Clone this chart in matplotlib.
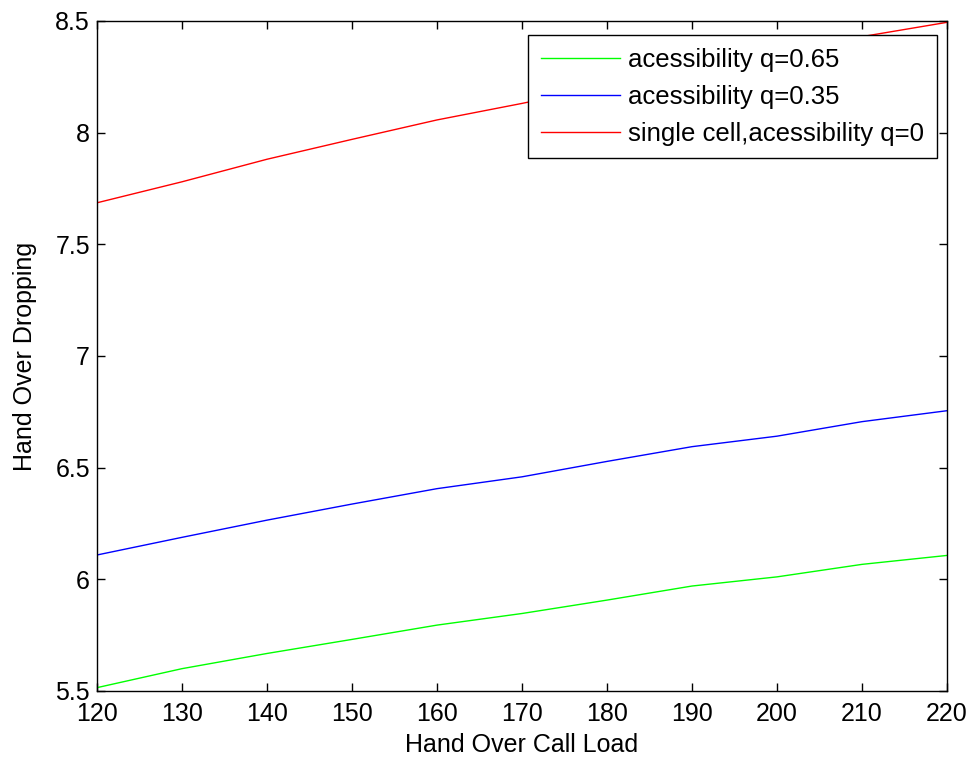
import matplotlib.pyplot as plt
import numpy as np

plt.rcParams['font.family'] = ['Liberation Sans', 'DejaVu Sans']

load = [120, 130, 140, 150, 160, 170, 180, 190, 200, 210, 220]
q065 = [5.515, 5.60, 5.668, 5.731, 5.795, 5.847, 5.907, 5.970, 6.011, 6.067, 6.107]
q035 = [6.109, 6.188, 6.265, 6.337, 6.406, 6.459, 6.528, 6.594, 6.641, 6.706, 6.755]
q0 = [7.686, 7.78, 7.881, 7.97, 8.057, 8.131, 8.21, 8.285, 8.36, 8.43, 8.494]

fig = plt.figure(figsize=(9.72, 7.58), dpi=100)
ax = fig.add_axes([0.0998, 0.0884, 0.8745, 0.8839])

ax.plot(load, q065, color='#00ff00', lw=1, label='acessibility q=0.65')
ax.plot(load, q035, color='#0000ff', lw=1, label='acessibility q=0.35')
ax.plot(load, q0, color='#ff0000', lw=1, label='single cell,acessibility q=0')

ax.set_xlim(120, 220)
ax.set_ylim(5.5, 8.5)
ax.set_xticks(np.arange(120, 221, 10))
ax.set_yticks(np.arange(5.5, 8.51, 0.5))
ax.set_yticklabels(['5.5', '6', '6.5', '7', '7.5', '8', '8.5'])
ax.tick_params(direction='in', top=True, right=True, labelsize=18, length=6, width=1)
ax.tick_params(axis='x', pad=8)
ax.tick_params(axis='y', pad=5)
for s in ax.spines.values():
    s.set_linewidth(1)

ax.set_xlabel('Hand Over Call Load', fontsize=18, labelpad=5)
ax.set_ylabel('Hand Over Dropping', fontsize=18, labelpad=13)

leg = ax.legend(loc='upper right', bbox_to_anchor=(0.988, 0.979), borderaxespad=0,
                fontsize=18.5, fancybox=False, edgecolor='black', framealpha=1,
                handlelength=3.1, handletextpad=0.3, borderpad=0.5, labelspacing=0.5)
leg.get_frame().set_linewidth(1)

fig.savefig('out.png', dpi=100)
